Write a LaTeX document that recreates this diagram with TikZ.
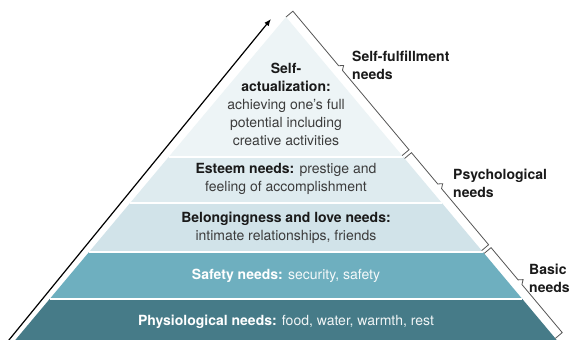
\documentclass[tikz,border=0pt]{standalone}
\usepackage{fontspec}
\setmainfont{TeX Gyre Heros}
\usetikzlibrary{calc,arrows.meta}
\definecolor{layA}{HTML}{EDF4F6}
\definecolor{layB}{HTML}{DEEBEF}
\definecolor{layC}{HTML}{D1E3E9}
\definecolor{layD}{HTML}{6EAFBF}
\definecolor{layE}{HTML}{467B88}
\definecolor{darktxt}{HTML}{1A1A1A}
\definecolor{regtxt}{HTML}{3C3C3C}
\definecolor{bracecol}{HTML}{555555}
\newcommand\needbrace[3]{%
  \draw[bracebase] ($(apex)!#1!(br)$) -- ++(6.9,-5.8)
    -- ($(apex)!#3!(br)+(6.9,-5.8)+(-1.9,-2.3)$)
    -- ($(apex)!#3!(br)+(6.9,-5.8)+(3.1,-2.6)$)
    -- ($(apex)!#3!(br)+(6.9,-5.8)+(1.9,2.3)$)
    -- ($(apex)!#2!(br)+(6.9,-5.8)$) -- ($(apex)!#2!(br)$);}
\begin{document}
\begin{tikzpicture}[x=1pt,y=-1pt,
  bracebase/.style={draw=bracecol,line width=0.8pt,line join=miter},
  laytext/.style={align=center,font=\fontsize{14}{18}\selectfont,text=darktxt,inner sep=0pt},
  sidetext/.style={align=left,anchor=west,font=\fontsize{14}{18}\selectfont\bfseries,text=darktxt,inner sep=0pt},
  sepline/.style={draw=white,line width=1.3pt}]
\useasboundingbox (0,0) rectangle (574,340);
\clip (0,0) rectangle (574,340);
\fill[white] (0,0) rectangle (574,340);
\coordinate (apex) at (286,17);
\coordinate (bl) at (15.3,340);
\coordinate (br) at (556.7,340);
\foreach \n/\t in {a/0.4334,b/0.5759,c/0.7276,d/0.8731,e/1.03}{
  \coordinate (L\n) at ($(apex)!\t!(bl)$);
  \coordinate (R\n) at ($(apex)!\t!(br)$);
}
% layers
\fill[layA] (apex) -- (Ra) -- (La) -- cycle;
\fill[layB] (La) -- (Ra) -- (Rb) -- (Lb) -- cycle;
\fill[layC] (Lb) -- (Rb) -- (Rc) -- (Lc) -- cycle;
\fill[layD] (Lc) -- (Rc) -- (Rd) -- (Ld) -- cycle;
\fill[layE] (Ld) -- (Rd) -- (Re) -- (Le) -- cycle;
\draw[sepline] (La) -- (Ra);
\draw[sepline] (Lb) -- (Rb);
\draw[sepline] (Lc) -- (Rc);
\draw[sepline] (Ld) -- (Rd);
% arrow
\coordinate (arrS) at (6.5,343);
\coordinate (arrE) at (271,19);
\draw[line width=1.2pt,-{Latex[length=7pt,width=5.5pt]}] (arrS) -- (arrE);
% texts
\node[laytext] (selfact) at (286,104) {\textbf{Self-}\\\textbf{actualization:}\\\textcolor{regtxt}{achieving one’s full}\\\textcolor{regtxt}{potential including}\\\textcolor{regtxt}{creative activities}};
\node[laytext] (esteem) at (286,179) {\textbf{Esteem needs:} \textcolor{regtxt}{prestige and}\\\textcolor{regtxt}{feeling of accomplishment}};
\node[laytext] (belong) at (286,228) {\textbf{Belongingness and love needs:}\\\textcolor{regtxt}{intimate relationships, friends}};
\node[laytext,text=white] (safety) at (286,276) {\textbf{Safety needs:} \textcolor{white!92!layD}{security, safety}};
\node[laytext,text=white] (physio) at (286,322) {\textbf{Physiological needs:} \textcolor{white!92!layE}{food, water, warmth, rest}};
% braces
\needbrace{0.0}{0.429}{0.176}
\needbrace{0.438}{0.723}{0.542}
\needbrace{0.732}{0.995}{0.839}
% side labels
\node[sidetext] (selffulfil) at (352,65) {Self-fulfillment\\needs};
\node[sidetext] (psych) at (453,183) {Psychological\\needs};
\node[sidetext] (basic) at (529,278) {Basic\\needs};
\end{tikzpicture}
\end{document}
